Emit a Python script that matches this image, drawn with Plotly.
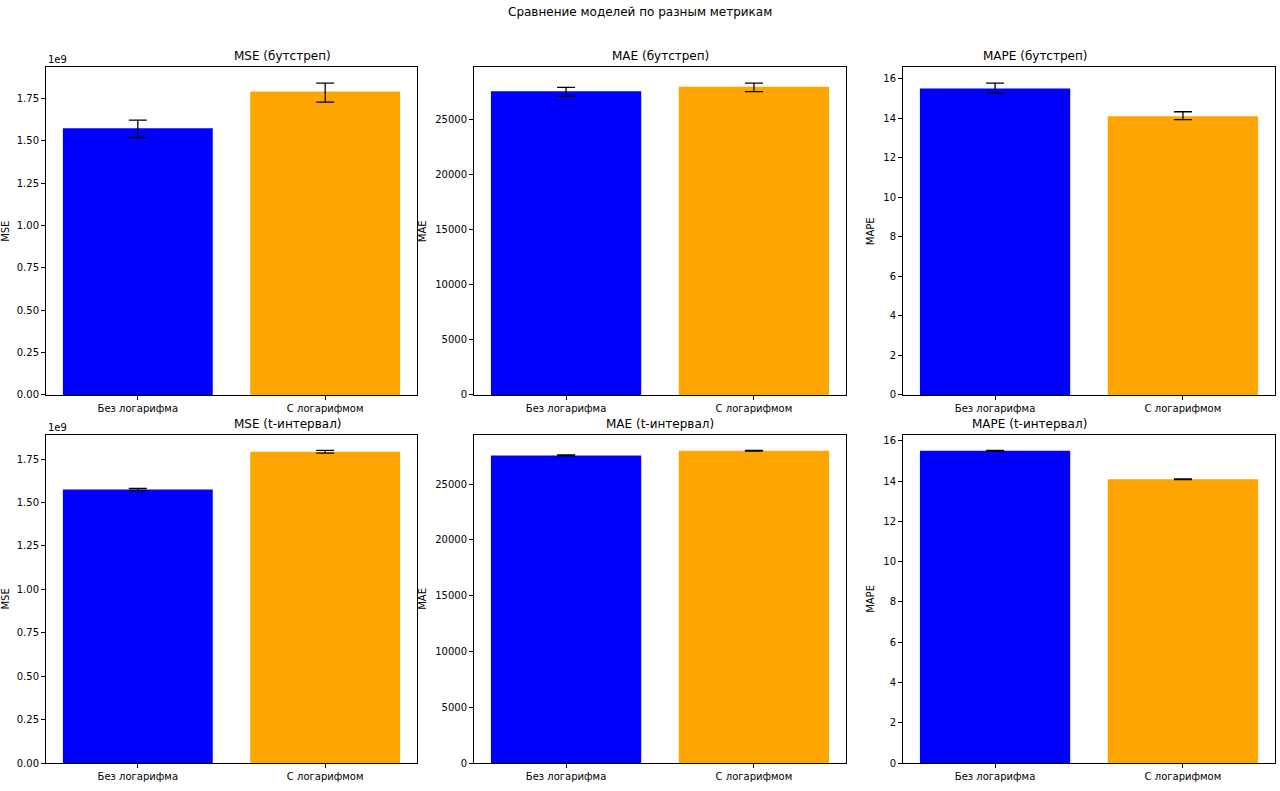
import plotly.graph_objects as go
from plotly.subplots import make_subplots

# models compared
models = ["Без логарифма", "С логарифмом"]
bar_colors = ["blue", "orange"]

# mean values (same for both CI methods)
mse_mean = [1.575e9, 1.792e9]
mae_mean = [27570, 27990]
mape_mean = [15.50, 14.09]

# bootstrap CI half-widths (upper / lower)
mse_boot_up = [0.048e9, 0.050e9]
mse_boot_lo = [0.055e9, 0.063e9]
mae_boot_up = [360, 330]
mae_boot_lo = [450, 450]
mape_boot_up = [0.27, 0.23]
mape_boot_lo = [0.23, 0.17]

# t-interval half-widths
mse_t_err = [0.006e9, 0.008e9]
mae_t_err = [40, 40]
mape_t_err = [0.025, 0.02]

W, H = 1280, 791

fig = make_subplots(rows=2, cols=3)

# panel geometry in pixels (left, right) / (top, bottom)
col_px = [(46, 417), (474, 846), (903, 1275)]
row_px = [(68, 398), (438, 769)]

panels = [
    # row, col, name, values, err up, err down, tick step, format, scale
    (1, 1, "MSE (бутстреп)", mse_mean, mse_boot_up, mse_boot_lo, 0.25, ".2f", 1e9),
    (1, 2, "MAE (бутстреп)", mae_mean, mae_boot_up, mae_boot_lo, 5000, "d", 1),
    (1, 3, "MAPE (бутстреп)", mape_mean, mape_boot_up, mape_boot_lo, 2, "d", 1),
    (2, 1, "MSE (t-интервал)", mse_mean, mse_t_err, mse_t_err, 0.25, ".2f", 1e9),
    (2, 2, "MAE (t-интервал)", mae_mean, mae_t_err, mae_t_err, 5000, "d", 1),
    (2, 3, "MAPE (t-интервал)", mape_mean, mape_t_err, mape_t_err, 2, "d", 1),
]

font = "DejaVu Sans, Arial, sans-serif"
annotations = []

for row, col, title, vals, up, lo, step, fmt, scale in panels:
    y = [v / scale for v in vals]
    eu = [e / scale for e in up]
    el = [e / scale for e in lo]
    fig.add_trace(
        go.Bar(
            x=[0, 1],
            y=y,
            marker=dict(color=bar_colors, line=dict(width=0)),
            error_y=dict(
                type="data",
                symmetric=False,
                array=eu,
                arrayminus=el,
                color="black",
                thickness=1.3,
                width=9,
            ),
            showlegend=False,
        ),
        row=row,
        col=col,
    )
    # matplotlib-like autoscale: 5% headroom above the highest error cap
    top = max(a + b for a, b in zip(y, eu)) * 1.05

    l, r = col_px[col - 1]
    t, b = row_px[row - 1]
    xd = [l / W, r / W]
    yd = [1 - b / H, 1 - t / H]

    fig.update_xaxes(
        domain=xd,
        range=[-0.49, 1.49],
        tickvals=[0, 1],
        ticktext=models,
        row=row,
        col=col,
    )
    fig.update_yaxes(
        domain=yd,
        range=[0, top],
        dtick=step,
        tick0=0,
        tickformat=fmt,
        title=dict(text=title.split(" ")[0], font=dict(size=10), standoff=6),
        row=row,
        col=col,
    )

    annotations.append(
        dict(
            text=title,
            x=(xd[0] + xd[1]) / 2,
            y=yd[1],
            xref="paper",
            yref="paper",
            yanchor="bottom",
            yshift=2,
            showarrow=False,
            font=dict(size=12, color="black"),
        )
    )
    if scale != 1:
        annotations.append(
            dict(
                text="1e9",
                x=xd[0],
                y=yd[1],
                xref="paper",
                yref="paper",
                xanchor="left",
                yanchor="bottom",
                yshift=0,
                showarrow=False,
                font=dict(size=10, color="black"),
            )
        )

annotations.append(
    dict(
        text="Сравнение моделей по разным метрикам",
        x=0.5,
        y=1 - 12 / H,
        xref="paper",
        yref="paper",
        yanchor="middle",
        showarrow=False,
        font=dict(size=12, color="black"),
    )
)

fig.update_xaxes(
    showline=True,
    linecolor="black",
    linewidth=1,
    mirror=True,
    ticks="outside",
    ticklen=4,
    tickcolor="black",
    showgrid=False,
    zeroline=False,
)
fig.update_yaxes(
    showline=True,
    linecolor="black",
    linewidth=1,
    mirror=True,
    ticks="outside",
    ticklen=4,
    tickcolor="black",
    showgrid=False,
    zeroline=False,
)

fig.update_layout(
    width=W,
    height=H,
    margin=dict(l=0, r=0, t=0, b=0),
    plot_bgcolor="white",
    paper_bgcolor="white",
    bargap=0.2,
    font=dict(family=font, size=10, color="black"),
    annotations=annotations,
)

# drop the default page margin so the figure sits at the window's corner
fig.write_html(
    "out.html",
    config={"displayModeBar": False},
    post_script=(
        "document.documentElement.style.overflow='hidden';"
        "document.body.style.margin='0';"
        "document.body.style.overflow='hidden';"
    ),
)
